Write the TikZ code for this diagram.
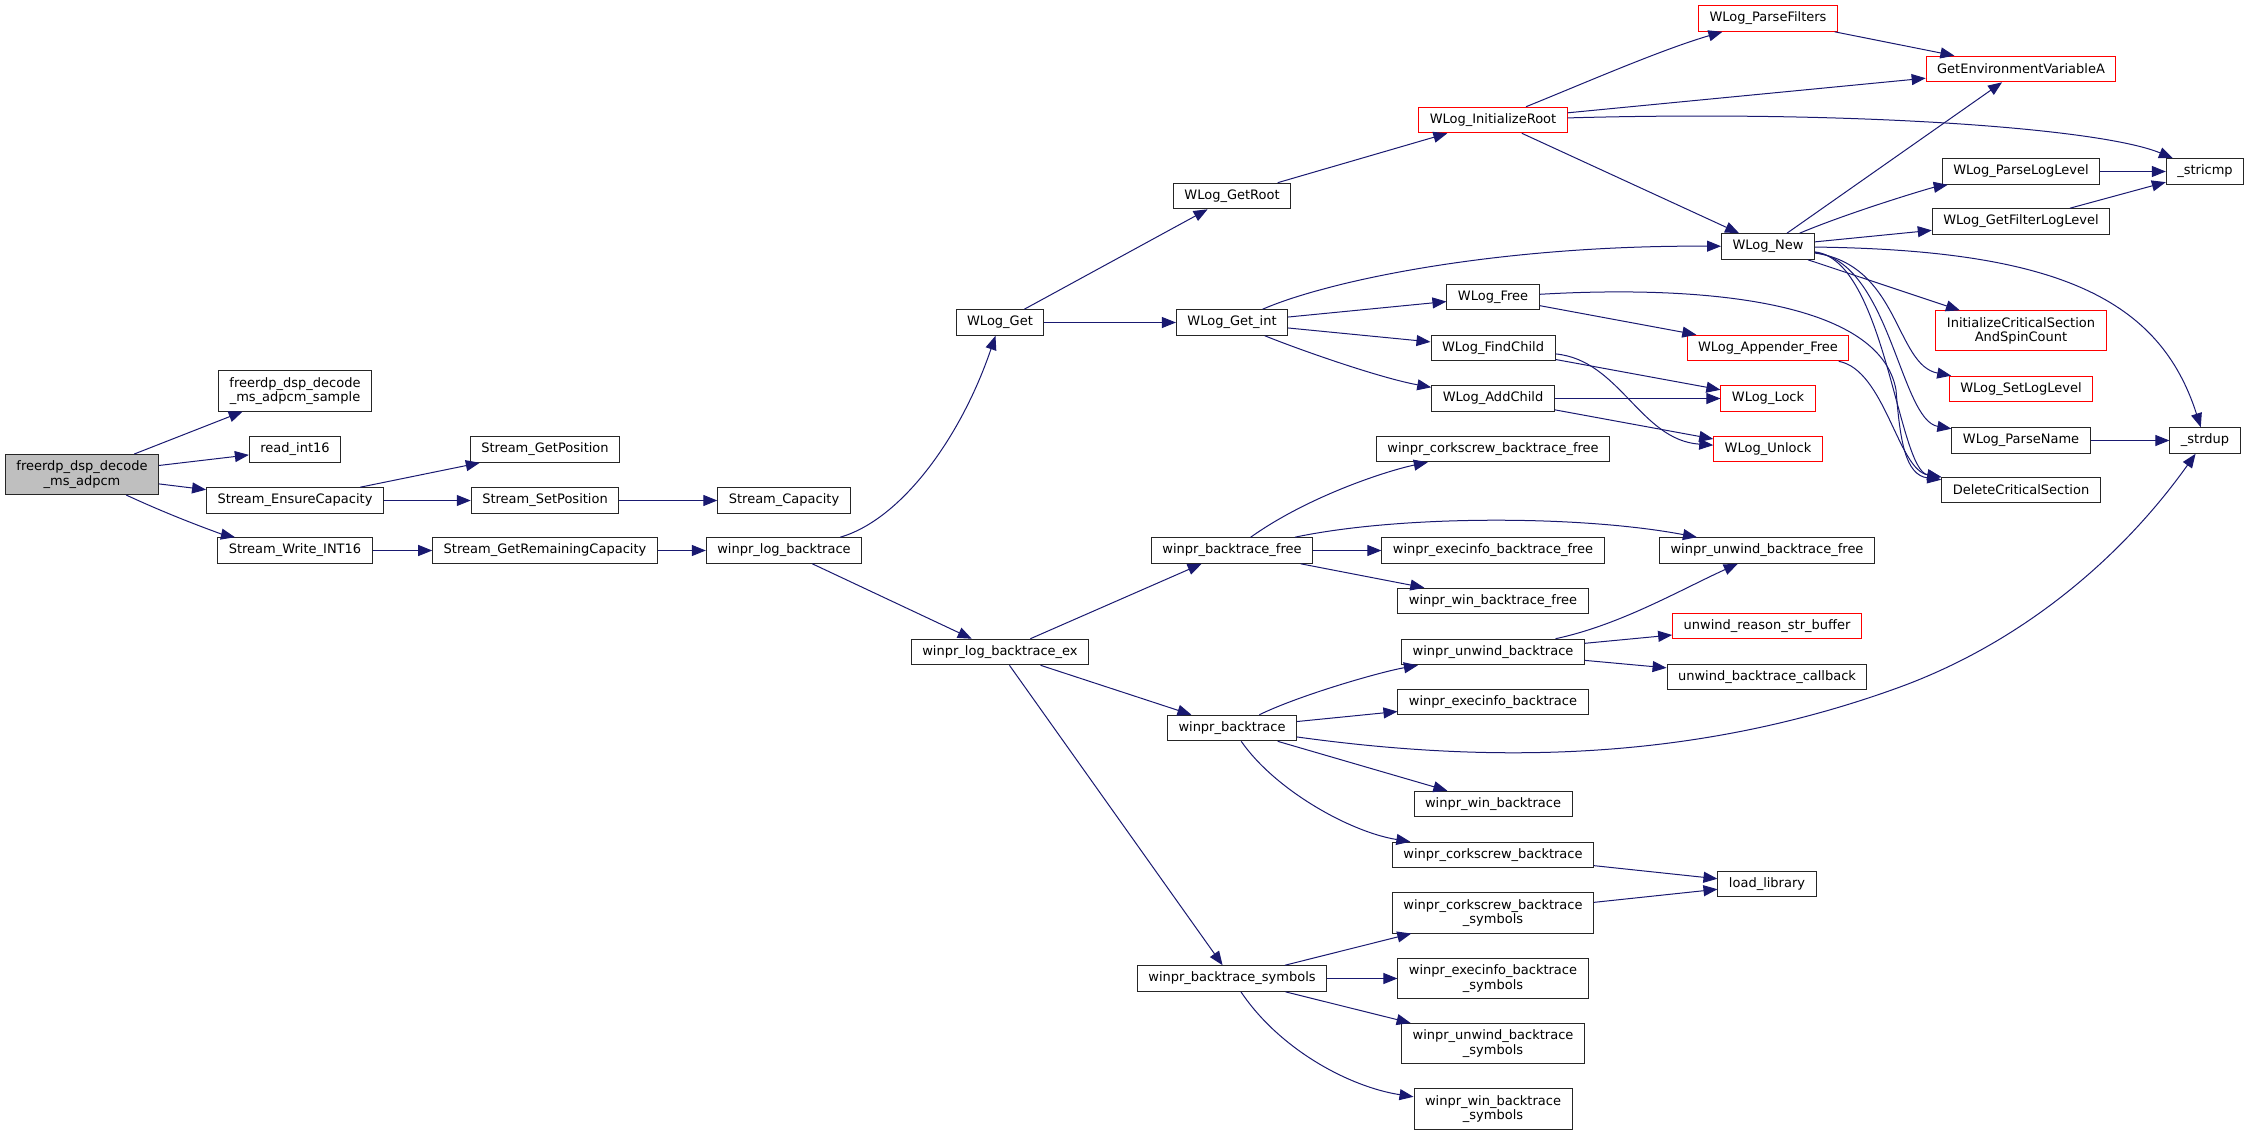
\documentclass[tikz,border=0pt]{standalone}
\usepackage{fontspec}
\setmainfont{DejaVu Sans}
\usetikzlibrary{arrows.meta}
\definecolor{midnight}{HTML}{191970}
\definecolor{rootgray}{HTML}{BFBFBF}
\tikzset{
    % Colors
    call color/.style={color=midnight},
    box color/.style={draw=black!85},
    truncated color/.style={draw=red},
    %
    % Nodes
    func box/.style={box color,fill=white,line width=1pt,rectangle,align=center,inner xsep=11pt,inner ysep=6.3pt,minimum height=25.6pt},
    truncated box/.style={func box,truncated color},
    root box/.style={func box,fill=rootgray},
    %
    % Arrows
    call tip/.tip={Triangle[length=14pt,width=11pt]},
    call/.style={call color,line width=1pt,-{call tip}}
}
\tikzstyle{every node}=[font=\fontsize{13}{14.5}\selectfont]

\begin{document}
\begin{tikzpicture}[x=1pt,y=-1pt]
    \useasboundingbox (0,0) rectangle (2245,1135);

    % first column
    \node[root box] (main) at (82,474.5) {freerdp\_dsp\_decode\\\_ms\_adpcm};
    \node[func box] (sample) at (295,391) {freerdp\_dsp\_decode\\\_ms\_adpcm\_sample};
    \node[func box] (readint) at (295,449.5) {read\_int16};
    \node[func box] (ensure) at (295,500.5) {Stream\_EnsureCapacity};
    \node[func box] (write) at (295,550.5) {Stream\_Write\_INT16};
    \node[func box] (getpos) at (545,449.5) {Stream\_GetPosition};
    \node[func box] (setpos) at (545,500.5) {Stream\_SetPosition};
    \node[func box] (remcap) at (545,550.5) {Stream\_GetRemainingCapacity};
    \node[func box] (capacity) at (784,500.5) {Stream\_Capacity};
    \node[func box] (logbt) at (784,550.5) {winpr\_log\_backtrace};
    \node[func box] (wlget) at (1000,322.5) {WLog\_Get};
    \node[func box] (logbtex) at (1000,652) {winpr\_log\_backtrace\_ex};

    % WLog part
    \node[func box] (getroot) at (1232,196) {WLog\_GetRoot};
    \node[func box] (getint) at (1232,322.5) {WLog\_Get\_int};
    \node[truncated box] (iroot) at (1493,120) {WLog\_InitializeRoot};
    \node[func box] (wfree) at (1493,297) {WLog\_Free};
    \node[func box] (findchild) at (1493,348) {WLog\_FindChild};
    \node[func box] (addchild) at (1493,398.5) {WLog\_AddChild};
    \node[truncated box] (pfilters) at (1768,18.5) {WLog\_ParseFilters};
    \node[func box] (wlnew) at (1768,246.5) {WLog\_New};
    \node[truncated box] (appfree) at (1768,348) {WLog\_Appender\_Free};
    \node[truncated box] (wlock) at (1768,398.5) {WLog\_Lock};
    \node[truncated box] (wunlock) at (1768,449) {WLog\_Unlock};
    \node[truncated box] (getenv) at (2021,69) {GetEnvironmentVariableA};
    \node[func box] (ploglevel) at (2021,171.5) {WLog\_ParseLogLevel};
    \node[func box] (filterlevel) at (2021,221.5) {WLog\_GetFilterLogLevel};
    \node[truncated box] (initcs) at (2021,330.7) {InitializeCriticalSection\\AndSpinCount};
    \node[truncated box] (setloglevel) at (2021,389) {WLog\_SetLogLevel};
    \node[func box] (pname) at (2021,440.5) {WLog\_ParseName};
    \node[func box] (delcs) at (2021,490) {DeleteCriticalSection};
    \node[func box] (stricmp) at (2205,171.5) {\_stricmp};
    \node[func box] (strdup) at (2205,440.5) {\_strdup};

    % backtrace part
    \node[func box] (btfree) at (1232,550.5) {winpr\_backtrace\_free};
    \node[func box] (winbt) at (1232,728) {winpr\_backtrace};
    \node[func box] (btsym) at (1232,978.5) {winpr\_backtrace\_symbols};
    \node[func box] (cbtfree) at (1493,449) {winpr\_corkscrew\_backtrace\_free};
    \node[func box] (ebtfree) at (1493,550.5) {winpr\_execinfo\_backtrace\_free};
    \node[func box] (wbtfree) at (1493,601) {winpr\_win\_backtrace\_free};
    \node[func box] (unwindbt) at (1493,652) {winpr\_unwind\_backtrace};
    \node[func box] (execbt) at (1493,702) {winpr\_execinfo\_backtrace};
    \node[func box] (winwinbt) at (1493,804) {winpr\_win\_backtrace};
    \node[func box] (corkbt) at (1493,855) {winpr\_corkscrew\_backtrace};
    \node[func box] (corksym) at (1493,913) {winpr\_corkscrew\_backtrace\\\_symbols};
    \node[func box] (execsym) at (1493,978.5) {winpr\_execinfo\_backtrace\\\_symbols};
    \node[func box] (unwindsym) at (1493,1043.5) {winpr\_unwind\_backtrace\\\_symbols};
    \node[func box] (winsym) at (1493,1109) {winpr\_win\_backtrace\\\_symbols};
    \node[func box] (ubtfree) at (1767,550.5) {winpr\_unwind\_backtrace\_free};
    \node[truncated box] (reason) at (1767,626) {unwind\_reason\_str\_buffer};
    \node[func box] (callback) at (1767,677) {unwind\_backtrace\_callback};
    \node[func box] (loadlib) at (1767,884) {load\_library};

    % straight calls
    \foreach \from/\to in {main/sample, main/readint, main/ensure, ensure/getpos, ensure/setpos,
        setpos/capacity, write/remcap, remcap/logbt, logbt/logbtex, wlget/getroot, wlget/getint,
        getroot/iroot, iroot/getenv, iroot/wlnew, pfilters/getenv, getint/wfree, getint/findchild,
        wlnew/getenv, wlnew/filterlevel, wlnew/initcs, ploglevel/stricmp, filterlevel/stricmp,
        pname/strdup, wfree/appfree, findchild/wlock, addchild/wlock, addchild/wunlock,
        logbtex/btfree, logbtex/winbt, logbtex/btsym, btfree/ebtfree, btfree/wbtfree,
        unwindbt/reason, unwindbt/callback, winbt/execbt, winbt/winwinbt, corkbt/loadlib,
        corksym/loadlib, btsym/corksym, btsym/execsym, btsym/unwindsym}
        \draw[call] (\from) -- (\to);

    % curved calls
    \draw[call] (main) .. controls (180,520) and (225,535) .. (write);
    \draw[call] ([xshift=-22pt]logbt.north east) .. controls (900,520) and (960,440) .. (wlget);
    \draw[call] (iroot) .. controls (1580,85) and (1660,50) .. (pfilters);
    \draw[call] (iroot) .. controls (1850,110) and (2100,128) .. (stricmp);
    \draw[call] (getint) .. controls (1330,280) and (1500,245) .. (wlnew);
    \draw[call] (getint) .. controls (1300,350) and (1380,378) .. (addchild);
    \draw[call] (wlnew) .. controls (1850,212) and (1930,188) .. (ploglevel);
    \draw[call] (wlnew) .. controls (2060,250) and (2160,300) .. (strdup);
    \draw[call] (wlnew) .. controls (1900,265) and (1895,365) .. (setloglevel);
    \draw[call] (wlnew) .. controls (1890,262) and (1900,420) .. (pname);
    \draw[call] (wlnew) .. controls (1885,260) and (1898,470) .. (delcs);
    \draw[call] (wfree) .. controls (1700,285) and (1880,300) .. (1896,390) .. controls (1900,440) and (1905,475) .. (delcs);
    \draw[call] (appfree) .. controls (1885,370) and (1898,470) .. (delcs);
    \draw[call] (findchild) .. controls (1620,360) and (1640,440) .. (wunlock);
    \draw[call] (btfree) .. controls (1310,495) and (1390,470) .. (cbtfree);
    \draw[call] (btfree) .. controls (1400,515) and (1580,515) .. (ubtfree);
    \draw[call] (winbt) .. controls (1300,695) and (1380,672) .. (unwindbt);
    \draw[call] (winbt) .. controls (1500,765) and (1700,760) .. (1900,687) .. controls (2020,643) and (2120,560) .. (strdup);
    \draw[call] (winbt) .. controls (1275,790) and (1350,832) .. (corkbt);
    \draw[call] (unwindbt) .. controls (1620,625) and (1680,590) .. (ubtfree);
    \draw[call] (btsym) .. controls (1280,1050) and (1350,1087) .. (winsym);
\end{tikzpicture}
\end{document}
